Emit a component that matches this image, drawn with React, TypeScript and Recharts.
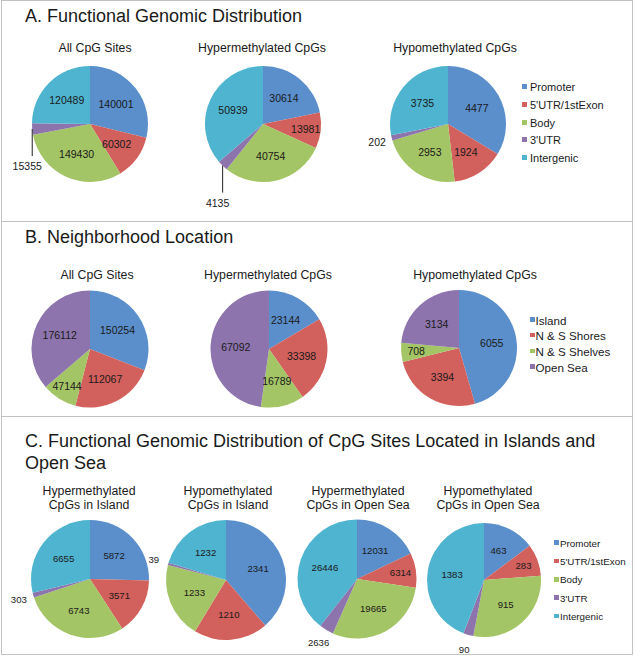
import { PieChart, Pie, Cell } from 'recharts';

const functionalCats = ['Promoter', "5'UTR/1stExon", 'Body', "3'UTR", 'Intergenic'];
const neighborhoodCats = ['Island', 'N & S Shores', 'N & S Shelves', 'Open Sea'];

// A. functional genomic distribution
const allFunctional = [140001, 60302, 149430, 15355, 120489];
const hyperFunctional = [30614, 13981, 40754, 4135, 50939];
const hypoFunctional = [4477, 1924, 2953, 202, 3735];

// B. neighborhood location
const allNeighborhood = [150254, 112067, 47144, 176112];
const hyperNeighborhood = [23144, 33398, 16789, 67092];
const hypoNeighborhood = [6055, 3394, 708, 3134];

// C. islands / open sea
const hyperIsland = [5872, 3571, 6743, 303, 6655];
const hypoIsland = [2341, 1210, 1233, 39, 1232];
const hyperOpenSea = [12031, 6314, 19665, 2636, 26446];
const hypoOpenSea = [463, 283, 915, 90, 1383];

const functionalColors = ['#5b8fcb', '#d2605c', '#a4c565', '#8d74ad', '#4fb4cf'];
const neighborhoodColors = ['#5b8fcb', '#d2605c', '#a4c565', '#8d74ad'];

const FONT = '"Liberation Sans", Arial, Helvetica, sans-serif';
const INK = '#1a1a1a';
const RAD = Math.PI / 180;

function makeLabel(fontSize: number, leader: boolean) {
  return (props: any) => {
    const { cx, cy, midAngle, outerRadius, percent, value, index } = props;
    const cos = Math.cos(-midAngle * RAD);
    const sin = Math.sin(-midAngle * RAD);
    if (percent < 0.045) {
      if (leader) {
        const ex = cx + outerRadius * cos;
        const ey = cy + outerRadius * sin;
        return (
          <g key={`lbl-${index}`}>
            <line x1={ex} y1={ey} x2={ex} y2={ey + 27} stroke="#222" strokeWidth={1} />
            <text x={ex - 5} y={ey + 37} textAnchor="middle" dominantBaseline="central"
              fontSize={fontSize} fill={INK} fontFamily={FONT}>{value}</text>
          </g>
        );
      }
      const r = outerRadius + 15;
      return (
        <text key={`lbl-${index}`} x={cx + r * cos} y={cy + r * sin} textAnchor="middle"
          dominantBaseline="central" fontSize={fontSize} fill={INK} fontFamily={FONT}>{value}</text>
      );
    }
    // thin slices get their label pushed toward the rim, like the original
    const r = outerRadius * (percent < 0.1 ? 0.74 : 0.57);
    return (
      <text key={`lbl-${index}`} x={cx + r * cos} y={cy + r * sin} textAnchor="middle"
        dominantBaseline="central" fontSize={fontSize} fill={INK} fontFamily={FONT}>{value}</text>
    );
  };
}

function SmallPie({ values, names, colors, cx, cy, r, fontSize = 10.5, leader = false }: any) {
  const data = values.map((v: number, i: number) => ({ name: names[i], value: v }));
  const S = 220;
  return (
    <div style={{ position: 'absolute', left: cx - S / 2, top: cy - S / 2, width: S, height: S }}>
      <PieChart width={S} height={S} margin={{ top: 0, right: 0, bottom: 0, left: 0 }}>
        <Pie
          data={data}
          dataKey="value"
          nameKey="name"
          cx={S / 2}
          cy={S / 2}
          outerRadius={r}
          startAngle={90}
          endAngle={-270}
          stroke="none"
          labelLine={false}
          label={makeLabel(fontSize, leader)}
          isAnimationActive={false}
        >
          {data.map((_: any, i: number) => (
            <Cell key={`c-${i}`} fill={colors[i]} />
          ))}
        </Pie>
      </PieChart>
    </div>
  );
}

function Sub({ x, top, lines, size = 12.3 }: any) {
  return (
    <div style={{
      position: 'absolute', left: x - 100, top, width: 200, textAlign: 'center',
      fontSize: size, lineHeight: '14px', color: INK, whiteSpace: 'nowrap',
    }}>
      {lines.map((l: string, i: number) => <div key={i}>{l}</div>)}
    </div>
  );
}

function Legend({ names, colors, sqX, textX, y0, step, size, sq }: any) {
  return (
    <>
      {names.map((n: string, i: number) => (
        <div key={n} style={{ position: 'absolute', left: sqX, top: y0 + i * step - 8, height: 16, display: 'flex', alignItems: 'center' }}>
          <div style={{ width: sq, height: sq, background: colors[i], marginTop: -1 }} />
          <div style={{ marginLeft: textX - sqX - sq, fontSize: size, color: INK, whiteSpace: 'nowrap' }}>{n}</div>
        </div>
      ))}
    </>
  );
}

const titleStyle: any = {
  position: 'absolute', left: 25, fontSize: 18, lineHeight: '18px', color: INK, whiteSpace: 'nowrap',
};

export default function App() {
  return (
    <div style={{ position: 'absolute', left: 0, top: 0, width: 634, height: 656, background: '#fff', fontFamily: FONT, overflow: 'hidden' }}>
      {/* frame */}
      <div style={{ position: 'absolute', left: 1, top: 0, width: 632, height: 655, border: '1px solid #c2c2c2', boxSizing: 'border-box' }} />
      <div style={{ position: 'absolute', left: 1, top: 221, width: 632, height: 1, background: '#c2c2c2' }} />
      <div style={{ position: 'absolute', left: 1, top: 416, width: 632, height: 1, background: '#c2c2c2' }} />

      {/* A */}
      <div style={{ ...titleStyle, top: 6.5 }}>A. Functional Genomic Distribution</div>
      <Sub x={95} top={41.4} lines={['All CpG Sites']} />
      <Sub x={262} top={41.4} lines={['Hypermethylated CpGs']} />
      <Sub x={455} top={41.4} lines={['Hypomethylated CpGs']} />
      <SmallPie values={allFunctional} names={functionalCats} colors={functionalColors} cx={89.5} cy={123.5} r={58} leader />
      <SmallPie values={hyperFunctional} names={functionalCats} colors={functionalColors} cx={263} cy={124} r={58} leader />
      <SmallPie values={hypoFunctional} names={functionalCats} colors={functionalColors} cx={448} cy={124} r={58} />
      <Legend names={functionalCats} colors={functionalColors} sqX={521.5} textX={530} y0={87} step={17.8} size={11} sq={5} />

      {/* B */}
      <div style={{ ...titleStyle, top: 228 }}>B. Neighborhood Location</div>
      <Sub x={97} top={267.7} lines={['All CpG Sites']} />
      <Sub x={268} top={267.7} lines={['Hypermethylated CpGs']} />
      <Sub x={475} top={267.7} lines={['Hypomethylated CpGs']} />
      <SmallPie values={allNeighborhood} names={neighborhoodCats} colors={neighborhoodColors} cx={89.6} cy={348.5} r={58.5} />
      <SmallPie values={hyperNeighborhood} names={neighborhoodCats} colors={neighborhoodColors} cx={269} cy={348.5} r={58.5} />
      <SmallPie values={hypoNeighborhood} names={neighborhoodCats} colors={neighborhoodColors} cx={458.7} cy={348} r={58} />
      <Legend names={neighborhoodCats} colors={neighborhoodColors} sqX={530} textX={535.5} y0={320} step={15.7} size={11.6} sq={4.5} />

      {/* C */}
      <div style={{ ...titleStyle, top: 430, lineHeight: '22px' }}>
        C. Functional Genomic Distribution of CpG Sites Located in Islands and
        <br />
        Open Sea
      </div>
      <Sub x={89} top={483.7} lines={['Hypermethylated', 'CpGs in Island']} />
      <Sub x={228} top={483.7} lines={['Hypomethylated', 'CpGs in Island']} />
      <Sub x={358} top={483.7} lines={['Hypermethylated', 'CpGs in Open Sea']} />
      <Sub x={488} top={483.7} lines={['Hypomethylated', 'CpGs in Open Sea']} />
      <SmallPie values={hyperIsland} names={functionalCats} colors={functionalColors} cx={89.6} cy={579} r={59} fontSize={9.6} />
      <SmallPie values={hypoIsland} names={functionalCats} colors={functionalColors} cx={225.8} cy={580} r={60} fontSize={9.6} />
      <SmallPie values={hyperOpenSea} names={functionalCats} colors={functionalColors} cx={357} cy={579} r={59.5} fontSize={9.6} />
      <SmallPie values={hypoOpenSea} names={functionalCats} colors={functionalColors} cx={484} cy={580} r={57} fontSize={9.6} />
      <Legend names={functionalCats} colors={functionalColors} sqX={554} textX={560} y0={543} step={18.4} size={9.8} sq={4.5} />
    </div>
  );
}
